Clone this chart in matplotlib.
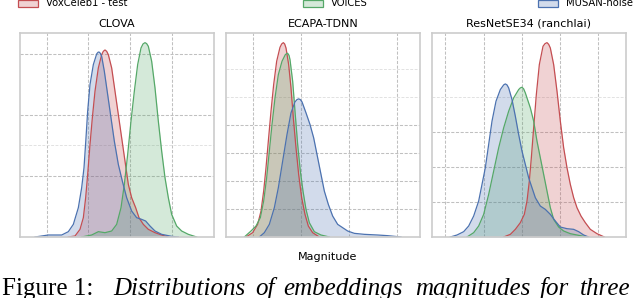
import matplotlib
matplotlib.use("Agg")
import matplotlib.pyplot as plt
from matplotlib.patches import Patch

# ---- data (magnitude in arbitrary units, density in arbitrary units) ----
series_names = ["VoxCeleb1 - test", "VOICES", "MUSAN-noise"]
colors = ["#C44E52", "#55A868", "#4C72B0"]
titles = ["CLOVA", "ECAPA-TDNN", "ResNetSE34 (ranchlai)"]

# CLOVA
clova_vox_x = [16.0, 18.0, 19.5, 20.5, 21.2, 21.8, 22.5, 23.2, 24.0, 25.0, 26.0, 26.5, 27.0, 27.5, 28.0,
               29.0, 30.0, 31.0, 32.0, 33.0, 34.0, 35.0, 36.2, 37.2, 38.5, 40.0, 42.0, 44.0, 46.0]
clova_vox_y = [0, 3, 23, 58, 118, 188, 278, 358, 438, 508, 548, 558, 562, 558, 548, 508, 438, 368,
               298, 228, 158, 118, 88, 58, 38, 23, 13, 6, 0]
clova_voices_x = [20.0, 23.0, 25.0, 27.0, 29.0, 30.5, 31.8, 32.8, 33.8, 34.8, 35.8, 36.8, 37.8, 38.4,
                  39.0, 39.5, 40.0, 41.0, 42.0, 43.0, 44.0, 45.0, 46.0, 47.0, 48.5, 50.0, 52.0, 54.5]
clova_voices_y = [0, 6, 16, 13, 18, 38, 88, 158, 248, 348, 438, 518, 568, 580, 584, 581, 573, 528,
                  448, 348, 258, 178, 118, 68, 33, 18, 8, 0]
clova_musan_x = [6.0, 10.0, 14.0, 16.0, 17.5, 19.0, 20.0, 20.7, 21.3, 21.8, 22.5, 23.5, 24.5, 24.9,
                 25.2, 25.6, 26.0, 26.8, 27.8, 28.8, 29.8, 31.0, 32.2, 33.5, 35.0, 36.5, 38.0, 39.2,
                 40.5, 42.0, 44.0, 47.0, 49.0]
clova_musan_y = [0, 6, 6, 16, 38, 88, 148, 208, 298, 378, 458, 518, 550, 555, 556, 552, 543, 498,
                 428, 358, 288, 218, 168, 118, 78, 58, 53, 48, 33, 18, 8, 2, 0]

# ECAPA-TDNN
ecapa_vox_x = [7.5, 9.5, 11.0, 12.0, 12.8, 13.5, 14.2, 15.0, 15.8, 16.7, 17.7, 18.2, 18.7, 19.1,
               19.5, 20.3, 21.0, 21.7, 22.5, 23.3, 24.2, 25.2, 26.2, 27.5, 29.5]
ecapa_vox_y = [0, 13, 38, 78, 138, 208, 288, 378, 458, 528, 570, 580, 584, 580, 568, 518, 448, 358,
               268, 188, 118, 68, 33, 13, 0]
ecapa_voices_x = [7.0, 9.0, 10.5, 11.8, 12.8, 13.7, 14.5, 15.3, 16.2, 17.2, 18.3, 19.3, 19.7, 20.0,
                  20.4, 20.7, 21.5, 22.2, 23.0, 23.8, 24.6, 25.5, 26.5, 28.0, 30.0, 32.5]
ecapa_voices_y = [0, 18, 33, 58, 108, 178, 258, 338, 418, 488, 528, 548, 551, 552, 546, 533, 468,
                  378, 278, 198, 138, 83, 43, 16, 6, 0]
ecapa_musan_x = [11.5, 13.0, 14.5, 16.0, 17.2, 18.5, 19.8, 21.0, 22.2, 22.8, 23.3, 23.8, 24.3, 25.5,
                 26.7, 27.8, 29.0, 30.0, 31.0, 32.2, 33.5, 35.0, 36.5, 38.0, 40.0, 43.0, 47.0, 50.0,
                 54.0]
ecapa_musan_y = [0, 13, 38, 88, 148, 228, 308, 373, 406, 413, 415, 413, 406, 373, 338, 298, 238,
                 188, 138, 98, 63, 38, 28, 18, 11, 8, 6, 4, 0]

# ResNetSE34 (ranchlai)
resnet_vox_x = [23.0, 25.0, 26.5, 28.0, 29.2, 30.0, 30.7, 31.3, 32.0, 32.8, 33.7, 34.8, 35.4, 36.0,
                36.5, 37.0, 38.0, 39.0, 40.0, 41.0, 42.0, 43.0, 44.0, 45.0, 46.2, 47.5, 49.0, 51.0,
                53.2]
resnet_vox_y = [0, 8, 23, 43, 68, 108, 168, 238, 328, 428, 518, 573, 581, 584, 579, 568, 518, 438,
                348, 268, 208, 158, 118, 88, 63, 43, 23, 10, 0]
resnet_voices_x = [12.0, 14.0, 15.5, 17.0, 18.5, 20.0, 21.5, 23.0, 24.5, 26.0, 27.5, 28.0, 28.5,
                   29.0, 29.5, 31.0, 32.0, 33.0, 34.0, 35.0, 36.0, 37.0, 38.0, 39.5, 41.0, 43.0,
                   46.0, 48.0]
resnet_voices_y = [0, 13, 33, 68, 128, 198, 268, 328, 378, 418, 443, 448, 450, 445, 433, 388, 348,
                   288, 238, 188, 138, 88, 53, 30, 18, 10, 4, 0]
resnet_musan_x = [7.0, 9.0, 11.0, 12.5, 14.0, 15.5, 16.5, 17.5, 18.5, 19.5, 20.7, 22.0, 23.0, 23.5,
                  24.0, 24.5, 25.5, 26.5, 27.5, 28.5, 29.5, 30.5, 31.5, 32.5, 34.0, 35.5, 37.0, 38.5,
                  40.0, 42.0, 44.0, 45.5, 47.0, 48.5]
resnet_musan_y = [0, 6, 16, 33, 63, 108, 158, 208, 278, 348, 408, 443, 457, 460, 457, 448, 413, 363,
                  308, 258, 218, 178, 148, 118, 93, 83, 68, 48, 30, 25, 23, 16, 6, 0]

panels = [
    [(clova_vox_x, clova_vox_y), (clova_voices_x, clova_voices_y), (clova_musan_x, clova_musan_y)],
    [(ecapa_vox_x, ecapa_vox_y), (ecapa_voices_x, ecapa_voices_y), (ecapa_musan_x, ecapa_musan_y)],
    [(resnet_vox_x, resnet_vox_y), (resnet_voices_x, resnet_voices_y), (resnet_musan_x, resnet_musan_y)],
]

# grid positions per panel (major / faint)
xgrids = [[9.5, 22.0, 34.5, 47.0], [9.5, 23.9, 38.4, 52.8], [5.5, 17.0, 28.4, 39.8, 51.2]]
ygrids = [[183, 366, 549], [84, 168, 252, 336], [105, 210, 315]]
ygrids_faint = [[276], [420, 504], [420]]

fig = plt.figure(figsize=(6.4, 2.98), dpi=100)
lefts = [20, 226, 432]
W, H = 640, 298
for i, left in enumerate(lefts):
    ax = fig.add_axes([left / W, (H - 237) / H, 194 / W, 204 / H])
    ax.set_xlim(1.5, 59.7)
    ax.set_ylim(0, 613)
    ax.set_xticks(xgrids[i])
    ax.set_yticks(ygrids[i])
    ax.set_yticks(ygrids_faint[i], minor=True)
    ax.grid(True, which="major", color="#c0c0c0", linestyle=(0, (3, 1.5)), linewidth=0.75)
    ax.grid(True, which="minor", axis="y", color="#e2e2e2", linestyle=(0, (3, 1.5)), linewidth=0.7)
    ax.set_axisbelow(True)
    ax.tick_params(which="both", length=0, labelbottom=False, labelleft=False)
    for sp in ax.spines.values():
        sp.set_color("#cccccc")
        sp.set_linewidth(1.2)
    for (x, y), c in zip(panels[i], colors):
        ax.fill_between(x, y, 0, color=c, alpha=0.25, linewidth=0)
    for (x, y), c in zip(panels[i], colors):
        ax.plot(x, y, color=c, linewidth=0.9)
    ax.set_title(titles[i], fontsize=8, pad=4.5)

fig.text(328 / W, (H - 260) / H, "Magnitude", fontsize=8, ha="center", va="baseline")

# legend entries across the top
leg_x = [18, 303, 538]
for name, c, lx in zip(series_names, colors, leg_x):
    h = Patch(facecolor=matplotlib.colors.to_rgba(c, 0.25), edgecolor=c, linewidth=0.9)
    fig.legend(handles=[h], labels=[name], loc="center left",
               bbox_to_anchor=(lx / W, 1 - 3.5 / H), frameon=False, borderaxespad=0,
               borderpad=0, handlelength=2.0, handleheight=0.7, handletextpad=0.8,
               fontsize=7.2)

# caption
serif = ["Liberation Serif", "DejaVu Serif"]
fig.text(2 / W, 3 / H, "Figure 1:", fontsize=18, family=serif, ha="left", va="baseline")
words = ["Distributions", "of", "embeddings", "magnitudes", "for", "three"]
word_x = [113, 255, 283, 415, 540, 580]
for w_, wx in zip(words, word_x):
    fig.text(wx / W, 3 / H, w_, fontsize=18, family=serif, style="italic",
             ha="left", va="baseline")

fig.savefig("out.png", dpi=100)
